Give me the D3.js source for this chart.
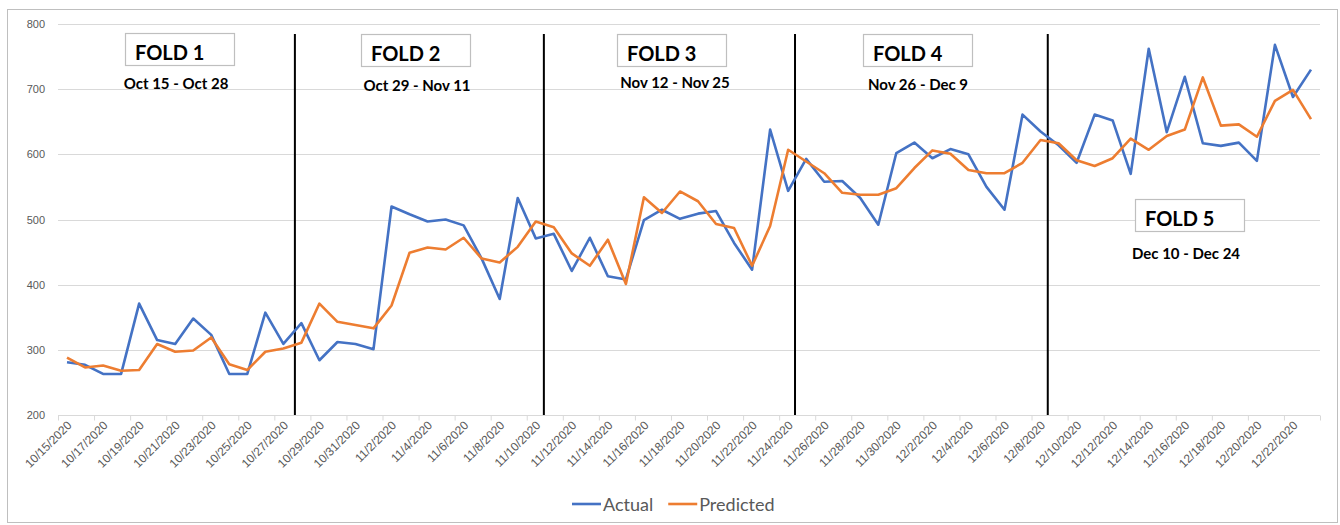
<!DOCTYPE html>
<html>
<head>
<meta charset="utf-8">
<script src="https://cdn.jsdelivr.net/npm/d3@7"></script>
<style>
  body { margin: 0; background: #fff; }
  svg { font-family: Lato, "Liberation Sans", sans-serif; }
</style>
</head>
<body>
<script>
// categories (one per day)
var dates = [
  "10/15/2020","10/16/2020","10/17/2020","10/18/2020","10/19/2020","10/20/2020","10/21/2020","10/22/2020",
  "10/23/2020","10/24/2020","10/25/2020","10/26/2020","10/27/2020","10/28/2020","10/29/2020","10/30/2020",
  "10/31/2020","11/1/2020","11/2/2020","11/3/2020","11/4/2020","11/5/2020","11/6/2020","11/7/2020",
  "11/8/2020","11/9/2020","11/10/2020","11/11/2020","11/12/2020","11/13/2020","11/14/2020","11/15/2020",
  "11/16/2020","11/17/2020","11/18/2020","11/19/2020","11/20/2020","11/21/2020","11/22/2020","11/23/2020",
  "11/24/2020","11/25/2020","11/26/2020","11/27/2020","11/28/2020","11/29/2020","11/30/2020","12/1/2020",
  "12/2/2020","12/3/2020","12/4/2020","12/5/2020","12/6/2020","12/7/2020","12/8/2020","12/9/2020",
  "12/10/2020","12/11/2020","12/12/2020","12/13/2020","12/14/2020","12/15/2020","12/16/2020","12/17/2020",
  "12/18/2020","12/19/2020","12/20/2020","12/21/2020","12/22/2020","12/23/2020"
];

var actual = [281,277,263,263,371,315,309,348,323,263,263,357,309,341,284,312,309,301,520,508,
  497,500,491,440,378,533,471,478,421,472,413,408,499,515,501,509,513,464,423,638,
  544,593,558,559,533,492,602,618,594,608,600,550,515,661,635,614,587,661,652,570,
  762,634,719,617,613,618,590,768,688,730];

var predicted = [288,273,276,268,269,309,297,299,319,278,269,297,302,311,371,343,338,333,368,449,
  457,454,472,440,434,458,497,488,448,429,469,401,534,510,543,528,493,487,429,490,
  607,589,571,541,538,538,548,579,606,601,576,571,571,587,622,617,591,582,594,624,
  607,628,638,718,644,646,627,682,699,654];

var yTicks = [200,300,400,500,600,700,800];

// fold annotations
var foldNames = ["FOLD 1","FOLD 2","FOLD 3","FOLD 4","FOLD 5"];
var foldRanges = ["Oct 15 - Oct 28","Oct 29 - Nov 11","Nov 12 - Nov 25","Nov 26 - Dec 9","Dec 10 - Dec 24"];
// hand drawn divider lines, in category units
var dividers = [12.64, 26.45, 40.38, 54.4];

var seriesNames = ["Actual","Predicted"];
var seriesColors = ["#4472C4","#ED7D31"];

// layout
var W = 1340, H = 525;
var plot = {left:58, right:1320, top:24, bottom:415};
var foldBoxes = [[125,33],[361,34],[617,34],[863,34],[1135,199]];
var foldSub = [[176,89],[417,91],[675,88],[918,90],[1186,259]];

var svg = d3.select("body").append("svg")
  .attr("width", W)
  .attr("height", H);

svg.append("rect")
  .attr("x", 7.5).attr("y", 9.5)
  .attr("width", 1330).attr("height", 513)
  .attr("fill", "#fff")
  .attr("stroke", "#bfbfbf");

var x = d3.scaleLinear().domain([-0.5, dates.length - 0.5]).range([plot.left, plot.right]);
var y = d3.scaleLinear().domain([200, 800]).range([plot.bottom, plot.top]);

// gridlines
svg.append("g")
  .selectAll("line")
  .data(yTicks.slice(1))
  .enter().append("line")
  .attr("x1", plot.left).attr("x2", plot.right)
  .attr("y1", function(d){ return Math.round(y(d)) + 0.5; })
  .attr("y2", function(d){ return Math.round(y(d)) + 0.5; })
  .attr("stroke", "#d9d9d9")
  .attr("stroke-width", 1);

// y axis labels
var yAxis = d3.axisLeft(y).tickValues(yTicks).tickSize(0).tickPadding(13);
var gy = svg.append("g")
  .attr("transform", "translate(" + plot.left + ",0)")
  .call(yAxis);
gy.select(".domain").remove();
gy.selectAll("text")
  .attr("fill", "#595959")
  .style("font-size", "11px");

// x axis: tick marks on every 2nd category boundary
var boundaries = d3.range(-0.5, dates.length, 2);
var xAxisTicks = d3.axisBottom(x).tickValues(boundaries).tickSize(5).tickFormat("");
var gx = svg.append("g")
  .attr("transform", "translate(0," + (Math.round(plot.bottom) + 0.5) + ")")
  .call(xAxisTicks);
gx.select(".domain").attr("stroke", "#d9d9d9").attr("d", "M" + plot.left + ",0H" + plot.right);
gx.selectAll(".tick line").attr("stroke", "#d9d9d9");

// x axis labels, every 2nd date
var labelIdx = d3.range(0, dates.length, 2);
var xAxisLabels = d3.axisBottom(x).tickValues(labelIdx).tickSize(0)
  .tickFormat(function(i){ return dates[i]; });
var gl = svg.append("g")
  .attr("transform", "translate(0," + plot.bottom + ")")
  .call(xAxisLabels);
gl.select(".domain").remove();
gl.selectAll("text")
  .attr("fill", "#595959")
  .style("font-size", "12px")
  .style("text-anchor", "end")
  .attr("dy", "0")
  .attr("y", 0)
  .attr("transform", "translate(5,11) rotate(-45)");

// fold dividers
svg.append("g")
  .selectAll("line")
  .data(dividers)
  .enter().append("line")
  .attr("x1", function(d){ return x(d); })
  .attr("x2", function(d){ return x(d); })
  .attr("y1", 34).attr("y2", plot.bottom)
  .attr("stroke", "#000")
  .attr("stroke-width", 2);

// series lines
var line = d3.line()
  .x(function(d, i){ return x(i); })
  .y(function(d){ return y(d); });

[actual, predicted].forEach(function(s, k){
  svg.append("path")
    .attr("d", line(s))
    .attr("fill", "none")
    .attr("stroke", seriesColors[k])
    .attr("stroke-width", 2.6)
    .attr("stroke-linejoin", "round");
});

// fold boxes
foldNames.forEach(function(name, i){
  var b = foldBoxes[i];
  svg.append("rect")
    .attr("x", b[0] + 0.5).attr("y", b[1] + 0.5)
    .attr("width", 109).attr("height", 32)
    .attr("fill", "#fff")
    .attr("stroke", "#bfbfbf")
    .attr("stroke-width", 1.2);
  svg.append("text")
    .attr("x", b[0] + 10).attr("y", b[1] + 27)
    .attr("fill", "#000")
    .style("font-size", "20px")
    .style("font-weight", "bold")
    .text(name);
  svg.append("text")
    .attr("x", foldSub[i][0]).attr("y", foldSub[i][1])
    .attr("text-anchor", "middle")
    .attr("fill", "#000")
    .style("font-size", "15px")
    .style("font-weight", "bold")
    .text(foldRanges[i]);
});

// legend
var legend = svg.append("g").attr("transform", "translate(572,504)");
var lx = 0;
seriesNames.forEach(function(n, i){
  legend.append("line")
    .attr("x1", lx).attr("x2", lx + 29)
    .attr("y1", 0).attr("y2", 0)
    .attr("stroke", seriesColors[i])
    .attr("stroke-width", 2.6);
  var t = legend.append("text")
    .attr("x", lx + 31).attr("y", 6.5)
    .attr("fill", "#595959")
    .style("font-size", "18px")
    .text(n);
  lx += 31 + t.node().getComputedTextLength() + 15;
});
</script>
</body>
</html>
